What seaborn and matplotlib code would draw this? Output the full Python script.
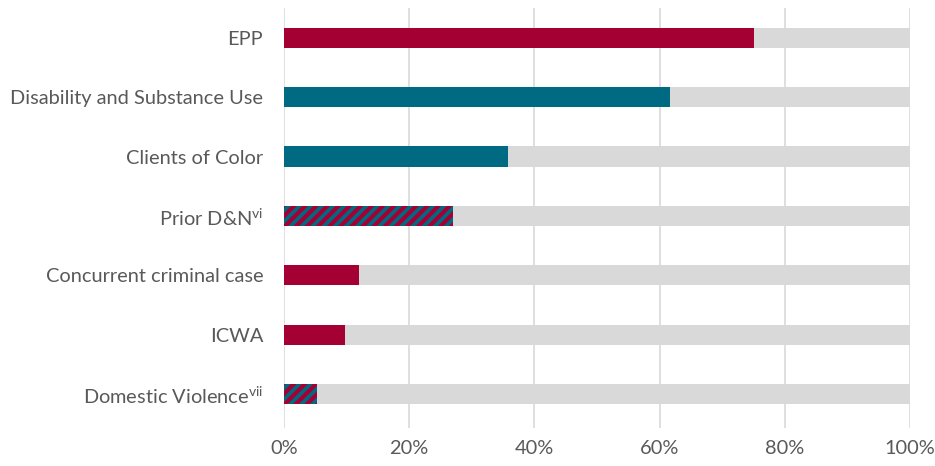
import matplotlib
matplotlib.use("Agg")
import matplotlib.pyplot as plt
import seaborn as sns
import pandas as pd

categories = ["EPP", "Disability and Substance Use", "Clients of Color",
              "Prior D&N$^{\\mathrm{vi}}$", "Concurrent criminal case", "ICWA",
              "Domestic Violence$^{\\mathrm{vii}}$"]
values = [75.1, 61.7, 35.8, 27.0, 12.0, 9.7, 5.3]
totals = [100, 100, 100, 100, 100, 100, 100]
series_type = ["crimson", "teal", "teal", "hatched", "crimson", "crimson", "hatched"]
tick_labels = ["0%", "20%", "40%", "60%", "80%", "100%"]

CRIMSON = "#A50034"
TEAL = "#006A82"
GRAY = "#D9D9D9"
TEXT = "#595959"

sns.set_style("white")
plt.rcParams['font.family'] = ['Lato', 'DejaVu Sans']
plt.rcParams['mathtext.fontset'] = 'custom'
plt.rcParams['mathtext.rm'] = 'Lato'
plt.rcParams['hatch.linewidth'] = 3.0

df = pd.DataFrame({"cat": categories, "val": values, "tot": totals, "kind": series_type})

fig = plt.figure(figsize=(9.35, 4.66), dpi=100)
ax = fig.add_axes([284/935, 1-428/466, (910-284)/935, (428-8)/466])

sns.barplot(data=df, y="cat", x="tot", color=GRAY, width=0.34, ax=ax,
            saturation=1, linewidth=0, orient="h")
colors = {"crimson": CRIMSON, "teal": TEAL, "hatched": TEAL}
sns.barplot(data=df, y="cat", x="val", hue="cat", palette=[colors[k] for k in series_type],
            width=0.34, ax=ax, saturation=1, linewidth=0, orient="h", legend=False)

# hatch bars
bars = [p for p in ax.patches][len(categories):]
for bar, kind in zip(bars, series_type):
    if kind == "hatched":
        bar.set_hatch("///")
        bar.set_edgecolor(CRIMSON)
        bar.set_linewidth(0)

ax.set_xlim(0, 100)
ax.set_ylim(len(categories) - 0.5 + 0.07, -0.5)
ax.set_xticks([0, 20, 40, 60, 80, 100])
ax.set_xticklabels(tick_labels)
ax.xaxis.grid(True, color=GRAY, linewidth=1.2)
ax.set_axisbelow(True)
for s in ax.spines.values():
    s.set_visible(False)
ax.set_xlabel("")
ax.set_ylabel("")
ax.tick_params(axis="both", length=0, labelsize=14.4, colors=TEXT)
ax.tick_params(axis="x", pad=9)
ax.tick_params(axis="y", pad=15)

fig.savefig("out.png", dpi=100)
